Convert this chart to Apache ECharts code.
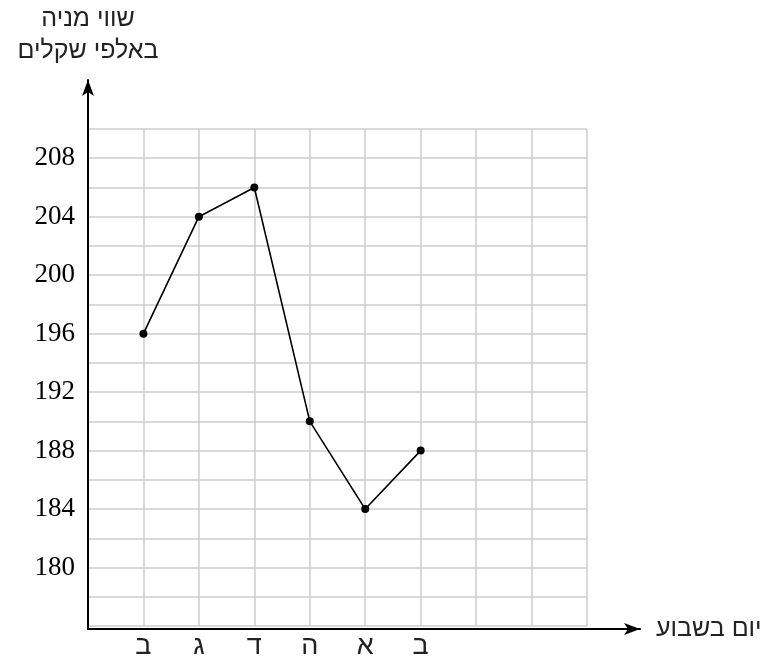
<!DOCTYPE html>
<html>
<head>
<meta charset="utf-8">
<script src="https://cdn.jsdelivr.net/npm/echarts@6/dist/echarts.min.js"></script>
<style>html,body{margin:0;padding:0;background:#fff}#c{width:766px;height:660px}</style>
</head>
<body>
<div id="c"></div>
<script>
const days = ['ב', 'ג', 'ד', 'ה', 'א', 'ב'];
const values = [196, 204, 206, 190, 184, 188];
const yLabels = [180, 184, 188, 192, 196, 200, 204, 208];
const xTitle = 'יום בשבוע';
const yTitle = 'שווי מניה\nבאלפי שקלים';

const chart = echarts.init(document.getElementById('c'), null, {renderer: 'canvas'});
const seriesData = values.map((v, i) => [i + 1, v]);

chart.setOption({
  animation: false,
  backgroundColor: '#fff',
  grid: [
    {left: 88, top: 129, right: 179, bottom: 31, containLabel: false},
    {left: 88, top: 80, right: 126, bottom: 31, containLabel: false}
  ],
  xAxis: [
    {
      gridIndex: 0, type: 'value', min: 0, max: 9, interval: 1,
      axisLine: {show: false}, axisTick: {show: false},
      splitLine: {show: true, lineStyle: {color: '#cccccc', width: 1.5}},
      axisLabel: {
        margin: 7,
        fontFamily: 'Liberation Sans', fontSize: 27, color: '#222',
        formatter: v => (v >= 1 && v <= days.length) ? days[v - 1] : ''
      }
    },
    {
      gridIndex: 1, type: 'value', min: 0, max: 1,
      axisLine: {show: true, onZero: false, symbol: ['none', 'arrow'], symbolSize: [9, 16], lineStyle: {color: '#000', width: 2}},
      axisTick: {show: false}, axisLabel: {show: false}, splitLine: {show: false},
      name: xTitle, nameLocation: 'end', nameGap: 16,
      nameTextStyle: {fontFamily: 'Liberation Sans', fontSize: 25, color: '#222', align: 'left', verticalAlign: 'middle'}
    }
  ],
  yAxis: [
    {
      gridIndex: 0, type: 'value', min: 176, max: 210, interval: 2,
      axisLine: {show: false}, axisTick: {show: false},
      splitLine: {show: true, lineStyle: {color: '#cccccc', width: 1.5}},
      axisLabel: {
        margin: 13,
        fontFamily: 'Liberation Serif', fontSize: 27, color: '#000',
        formatter: v => yLabels.indexOf(v) >= 0 ? String(v) : ''
      }
    },
    {
      gridIndex: 1, type: 'value', min: 0, max: 1,
      axisLine: {show: true, onZero: false, symbol: ['none', 'arrow'], symbolSize: [9, 16], lineStyle: {color: '#000', width: 2}},
      axisTick: {show: false}, axisLabel: {show: false}, splitLine: {show: false},
      name: yTitle, nameLocation: 'end', nameGap: 13,
      nameTextStyle: {fontFamily: 'Liberation Sans', fontSize: 25, color: '#222', align: 'center', verticalAlign: 'bottom', lineHeight: 32}
    }
  ],
  series: [{
    type: 'line', xAxisIndex: 0, yAxisIndex: 0,
    data: seriesData,
    symbol: 'circle', symbolSize: 8,
    itemStyle: {color: '#000'},
    lineStyle: {color: '#000', width: 1.6}
  }]
});
</script>
</body>
</html>
